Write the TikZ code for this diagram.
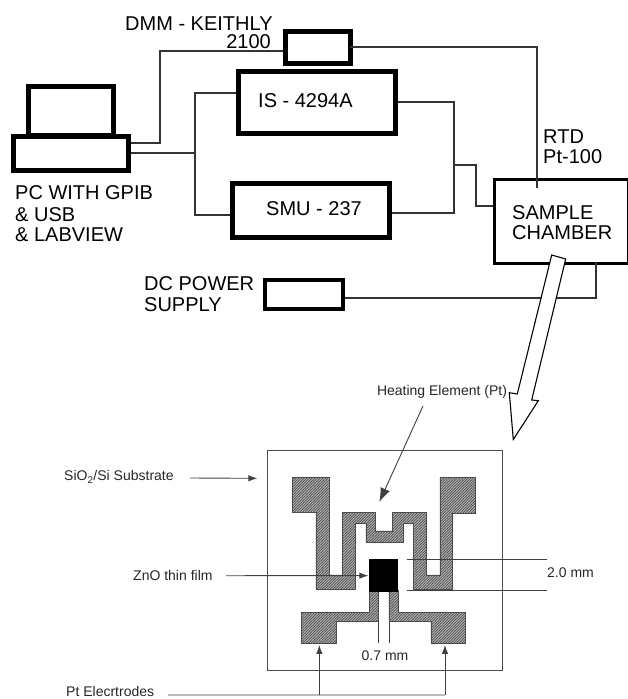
\documentclass[tikz,border=0pt]{standalone}
\usepackage{fontspec}
\setmainfont{Liberation Sans}
\usetikzlibrary{patterns.meta,arrows.meta}
\tikzset{
  thickbox/.style={draw=black,line width=5pt,fill=white,rectangle,inner sep=0pt,minimum width=#1},
  wire/.style={draw=black!80,line width=1.1pt},
  big/.style={font=\fontsize{20}{21}\selectfont,inner sep=0pt,align=left},
  small/.style={font=\fontsize{14}{16}\selectfont,inner sep=0pt,text=black!85},
  thin wire/.style={draw=black!75,line width=0.9pt},
  pointer/.style={thin wire,-{Latex[length=9pt,width=6.5pt]}},
  metal/.style={draw=black!70,line width=0.6pt,fill=black!30,postaction={pattern={Lines[angle=45,distance=1.9pt,line width=0.7pt]},pattern color=black!70}}
}
\begin{document}
\begin{tikzpicture}[x=1pt,y=-1pt]
\useasboundingbox (0,0) rectangle (628,699);
% instrument boxes
\node[thickbox=65pt,minimum height=31.5pt] (dmm) at (317.5,47.3) {};
\node[thickbox=157pt,minimum height=61.5pt] (is) at (317,102.3) {};
\node[thickbox=157pt,minimum height=54pt] (smu) at (310.5,210) {};
\node[thickbox=85.5pt,minimum height=49pt] (screen) at (71.2,110.5) {};
\node[thickbox=115pt,minimum height=34pt] (base) at (70.5,153) {};
\node[draw=black,line width=3.8pt,fill=white,minimum width=78pt,minimum height=29pt,inner sep=0pt] (dc) at (304,294.5) {};
\node[draw=black,line width=3pt,fill=white,anchor=north west,minimum width=134pt,minimum height=84pt,inner sep=0pt] (chamber) at (493,178) {};
% junctions
\coordinate (pcA) at (base.east |- 0,143);
\coordinate (pcB) at (base.east);
\coordinate (busTop) at (195,93);
\coordinate (busMid) at (195,153);
\coordinate (busBot) at (195,215);
\coordinate (dmmIn) at (dmm.west |- 0,51);
\coordinate (isIn) at (is.west |- 0,93);
\coordinate (smuIn) at (smu.west |- 0,215);
\coordinate (isOut) at (is.east |- 0,102);
\coordinate (smuOut) at (smu.east |- 0,213);
\coordinate (dmmOut) at (350,47);
\coordinate (rtdEnd) at (537,188);
\coordinate (chIn) at (chamber.west |- 0,206);
\coordinate (dcOut) at (dc.east |- 0,298);
\coordinate (chOut) at (596,262);
% wires
\draw[wire] (pcA) -- (160,143) -- (160,51) -- (dmmIn);
\draw[wire] (pcB) -- (busMid);
\draw[wire] (isIn) -- (busTop) -- (busBot) -- (smuIn);
\draw[wire] (isOut) -- (454,102) -- (454,213) -- (smuOut);
\draw[wire] (454,165) -- (476,165) -- (476,206) -- (chIn);
\draw[wire] (dmmOut) -- (537,47) -- (rtdEnd);
\draw[wire] (dcOut) -- (596,298) -- (chOut);
% big hollow arrow
\draw[fill=white,draw=black,line width=1.1pt] (551.7,255) -- (565.7,259) -- (531.7,400) -- (538.3,400.7) -- (513.3,439.5) -- (509.3,392.7) -- (517.3,394) -- cycle;
% texts
\node[big,anchor=west] (tdmm) at (125,24) {DMM - KEITHLY};
\node[big,anchor=east] (t2100) at (271,42) {2100};
\node[big,anchor=west] (tis) at (258,101) {IS - 4294A};
\node[big,anchor=west] (tsmu) at (266,209) {SMU - 237};
\node[big,anchor=west] (tpc1) at (15,193) {PC WITH GPIB};
\node[big,anchor=west] (tpc2) at (15,214.5) {\&~USB};
\node[big,anchor=west] (tpc3) at (15,235) {\&~LABVIEW};
\node[big,anchor=west] (tdc1) at (144,284) {DC POWER};
\node[big,anchor=west] (tdc2) at (144,305) {SUPPLY};
\node[big,anchor=west] (tsa) at (512,213) {SAMPLE};
\node[big,anchor=west] (tch) at (512,233) {CHAMBER};
\node[big,anchor=west] (trtd) at (543,137) {RTD};
\node[big,anchor=west] (tpt) at (543,157) {Pt-100};
% substrate
\node[draw=black!70,line width=0.9pt,minimum width=235pt,minimum height=220pt,inner sep=0pt] (sub) at (384.5,560) {};
\begin{scope}[shift={(240,380)},x=0.3333pt,y=-0.3333pt]
\draw[metal] (158,292) -- (268,292) -- (268,585) -- (308,585) -- (308,397) -- (405,397) -- (405,453) -- (457,453) -- (457,397) -- (560,397) -- (560,585) -- (600,585) -- (600,292) -- (706,292) -- (706,400) -- (638,400) -- (638,628) -- (520,628) -- (520,430) -- (490,430) -- (490,488) -- (378,488) -- (378,430) -- (345,430) -- (345,628) -- (228,628) -- (228,397) -- (158,397) -- cycle;
\draw[metal] (388,630) -- (415,630) -- (415,725) -- (290,725) -- (290,790) -- (185,790) -- (185,698) -- (388,698) -- cycle;
\draw[metal] (447,630) -- (475,630) -- (475,698) -- (675,698) -- (675,790) -- (573,790) -- (573,725) -- (447,725) -- cycle;
\fill[black] (388,537) rectangle (475,635);
\coordinate (film) at (385,587);
\coordinate (heatTip) at (418,366);
\coordinate (dimA) at (500,537);
\coordinate (dimAe) at (922,537);
\coordinate (dimB) at (500,632);
\coordinate (dimBe) at (922,632);
\coordinate (wA) at (415,725);
\coordinate (wAe) at (415,788);
\coordinate (wB) at (447,725);
\coordinate (wBe) at (447,788);
\coordinate (padL) at (238,795);
\coordinate (padR) at (615,795);
\coordinate (railL) at (238,945);
\coordinate (railR) at (615,945);
\coordinate (subEdge) at (52,295);
\end{scope}
\draw[thin wire] (dimA) -- (dimAe);
\draw[thin wire] (dimB) -- (dimBe);
\draw[thin wire] (wA) -- (wAe);
\draw[thin wire] (wB) -- (wBe);
% labels
\node[small,anchor=south] (theat) at (442,399) {Heating Element (Pt)};
\node[small,anchor=west] (tsio) at (64,477) {SiO\textsubscript{2}/Si Substrate};
\node[small,anchor=west] (tzno) at (133,575) {ZnO thin film};
\node[small,anchor=west] (tpte) at (66,691.5) {Pt Elecrtrodes};
\node[small] (tw) at (385,656) {0.7 mm};
\node[small,anchor=west] (tl) at (547,573) {2.0 mm};
\coordinate (heatStart) at (423,406);
\draw[thin wire,-{Latex[length=14pt,width=10pt]}] (heatStart) -- (heatTip);
\coordinate (sioStart) at (190,478);
\draw[pointer] (sioStart) -- (subEdge);
\coordinate (znoStart) at (226,575.7);
\draw[pointer] (znoStart) -- (film);
\coordinate (railStart) at (168,695);
\draw[thin wire] (railStart) -- (railR);
\draw[pointer] (railL) -- (padL);
\draw[pointer] (railR) -- (padR);
\end{tikzpicture}
\end{document}
